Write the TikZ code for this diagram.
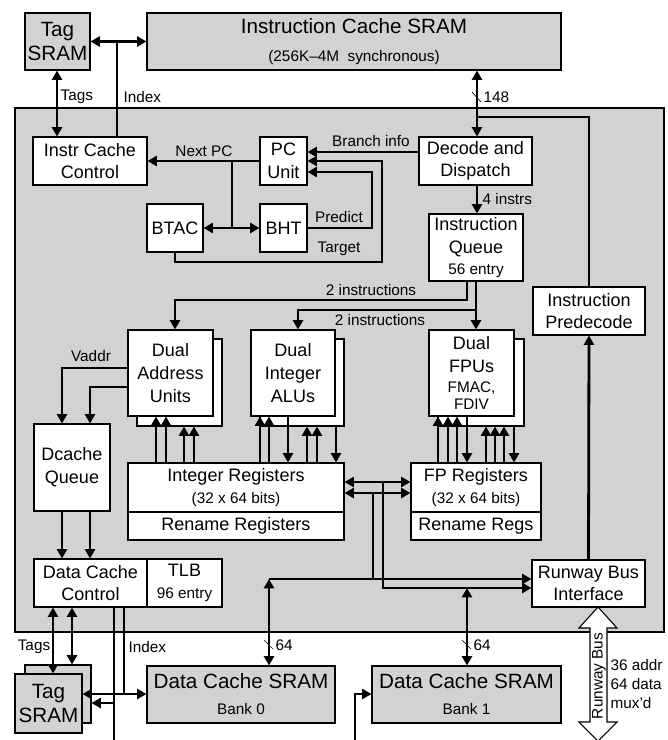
\documentclass[tikz,border=0pt]{standalone}
\usepackage{fontspec}
\setmainfont{Liberation Sans}
\usetikzlibrary{arrows.meta}
\definecolor{chipgray}{RGB}{210,210,212}
\newcommand{\sizebig}{\fontsize{15.5}{18.5}\selectfont}
\newcommand{\sizebox}{\fontsize{13.5}{17}\selectfont}
\newcommand{\sizesmall}{\fontsize{11.5}{13.5}\selectfont}
\tikzstyle{arrow} = [line width=2.1pt,->,>={Triangle[length=7pt,width=7.5pt]}]
\tikzstyle{wire}  = [line width=2.1pt]
\tikzset{every node/.style={align=center}}
% box from corner (x1,y1) to (x2,y2), in pixels
\newcommand{\blk}[7][]{%
  \node[box,#1,minimum width={(#5-#3)*0.75pt},minimum height={(#6-#4)*0.75pt}]
    (#2) at ({(#3+#5)/2},{(#4+#6)/2}) {#7};}

\begin{document}
\begin{tikzpicture}[
    x=0.75pt, y=-0.75pt,
    box/.style={rectangle, draw, line width=0.8pt, fill=white, inner sep=0pt, font=\sizebox},
    sram/.style={fill=chipgray, font=\sizebig},
    lbl/.style={inner sep=1pt, font=\sizesmall}
]
  \useasboundingbox (0,0) rectangle (668,740);

  % --- chip and external SRAMs ---
  \blk[fill=chipgray, line width=1.8pt]{chip}{15}{108}{664}{632}{}
  \blk[sram]{tagt}{25}{13}{90}{70}{Tag\\SRAM}
  \blk[sram]{ic}{147}{13}{561}{70}{Instruction Cache SRAM\\[3pt]{\sizesmall (256K–4M\ \ synchronous)}}
  \blk[sram]{b0}{147}{666}{335}{723}{Data Cache SRAM\\[1pt]{\sizesmall Bank 0}}
  \blk[sram]{b1}{372}{666}{561}{723}{Data Cache SRAM\\[1pt]{\sizesmall Bank 1}}
  \blk[sram]{tagbk}{25}{665}{91}{723}{}
  \blk[sram]{tagb}{15}{674}{82}{733}{Tag\\SRAM}

  % --- fetch ---
  \blk{icc}{33}{137}{147}{185}{Instr Cache\\Control}
  \blk{pc}{260}{137}{307}{185}{PC\\Unit}
  \blk{dd}{419}{137}{532}{185}{Decode and\\Dispatch}
  \blk{btac}{147}{204}{203}{252}{BTAC}
  \blk{bht}{260}{204}{307}{252}{BHT}
  \blk{iq}{429}{214}{523}{281}{Instruction\\Queue\\[-1pt]{\sizesmall 56 entry}}
  \blk{pd}{533}{287}{645}{335}{Instruction\\Predecode}

  % --- execution units ---
  \blk{daush}{137}{339}{222}{426}{}
  \blk{dau}{128}{330}{213}{416}{Dual\\Address\\Units}
  \blk{alush}{260}{339}{344}{426}{}
  \blk{alu}{251}{330}{335}{416}{Dual\\Integer\\ALUs}
  \blk{fpush}{438}{339}{524}{426}{}
  \blk{fpu}{429}{330}{514}{416}{Dual\\FPUs\\[-2pt]{\sizesmall FMAC,}\\[-4pt]{\sizesmall FDIV}}

  % --- registers, queues ---
  \blk{dq}{34}{424}{110}{511}{Dcache\\Queue}
  \blk{ir}{128}{463}{344}{512}{Integer Registers\\[-1pt]{\sizesmall (32 x 64 bits)}}
  \blk{irr}{128}{512}{344}{540}{Rename Registers}
  \blk{fr}{411}{463}{541}{512}{FP Registers\\[-1pt]{\sizesmall (32 x 64 bits)}}
  \blk{frr}{411}{512}{541}{540}{Rename Regs}
  \blk{dcc}{34}{559}{147}{607}{Data Cache\\Control}
  \blk{tlb}{147}{559}{222}{607}{TLB\\[-1pt]{\sizesmall 96 entry}}
  \blk{rbi}{532}{560}{645}{607}{Runway Bus\\Interface}

  % --- fetch connections ---
  \draw[arrow, <->] (tagt.east) -- (ic.west);
  \draw[wire] (117,0 |- icc.north) -- (117,42);
  \draw[arrow, <->] (57,0 |- tagt.south) -- (57,0 |- icc.north);
  \node[lbl, anchor=west] (tagslbl) at (59,97) {Tags};
  \node[lbl, anchor=west] (indexlbl) at (122,97) {Index};
  \draw[arrow] (pc.west) -- (icc.east);
  \node[lbl] (nextpc) at (204,151) {Next PC};
  \draw[wire] (232,0 |- pc.west) -- (232,0 |- bht.west);
  \draw[arrow, <->] (btac.east) -- (bht.west);
  \draw[arrow] (bht.east) -- (372,0 |- bht.east) |- (pc.east |- 0,172);
  \draw[arrow] (175,0 |- btac.south) -- (175,262) -| (382,161) -- (pc.east);
  \draw[arrow] (dd.west |- 0,152) -- (pc.east |- 0,152);
  \node[lbl] (predict) at (339,217) {Predict};
  \node[lbl] (target) at (339,249) {Target};
  \node[lbl] (brinfo) at (371,141) {Branch info};

  % --- decode and issue ---
  \draw[arrow, <->] (477,0 |- ic.south) -- (477,0 |- dd.north);
  \draw[line width=0.5pt] (472,92) -- (481,102);
  \node[lbl, anchor=west] (w148) at (482,97) {148};
  \draw[wire] (pd.north) |- (477,117);
  \draw[arrow] (477,0 |- dd.south) -- (477,0 |- iq.north);
  \node[lbl, anchor=west] (instrs4) at (481,199) {4 instrs};
  \draw[arrow] (467,0 |- iq.south) |- (175,300) -- (175,0 |- dau.north);
  \draw[arrow] (476,0 |- iq.south) -- (476,0 |- fpu.north);
  \draw[arrow] (476,310) -| (298,0 |- alu.north);
  \node[lbl] (twoa) at (371,290) {2 instructions};
  \node[lbl] (twob) at (380,320) {2 instructions};
  \draw[arrow] (rbi.north) -- (pd.south);

  % --- operands ---
  \foreach \x in {156,166} \draw[arrow] (\x,0 |- ir.north) -- (\x,0 |- dau.south);
  \foreach \x in {184,194} \draw[arrow] (\x,0 |- ir.north) -- (\x,0 |- daush.south);
  \foreach \x in {260,269} \draw[arrow] (\x,0 |- ir.north) -- (\x,0 |- alu.south);
  \foreach \x in {307,317} \draw[arrow] (\x,0 |- ir.north) -- (\x,0 |- alush.south);
  \draw[arrow] (288,0 |- alu.south) -- (288,0 |- ir.north);
  \draw[arrow] (336,0 |- alush.south) -- (336,0 |- ir.north);
  \foreach \x in {438,448,457} \draw[arrow] (\x,0 |- fr.north) -- (\x,0 |- fpu.south);
  \foreach \x in {486,495,504} \draw[arrow] (\x,0 |- fr.north) -- (\x,0 |- fpush.south);
  \draw[arrow] (467,0 |- fpu.south) -- (467,0 |- fr.north);
  \draw[arrow] (514,0 |- fpush.south) -- (514,0 |- fr.north);
  \draw[arrow, <->] (ir.east |- 0,482) -- (fr.west |- 0,482);
  \draw[arrow, <->] (ir.east |- 0,493) -- (fr.west |- 0,493);

  % --- load/store path ---
  \draw[arrow] (dau.west |- 0,368) -| (62,0 |- dq.north);
  \draw[arrow] (dau.west |- 0,387) -| (90,0 |- dq.north);
  \node[lbl] (vaddr) at (91,356) {Vaddr};
  \draw[arrow] (62,0 |- dq.south) -- (62,0 |- dcc.north);
  \draw[arrow] (90,0 |- dq.south) -- (90,0 |- dcc.north);
  \draw[wire] (373,493) -- (373,579);
  \draw[arrow] (269,579) -- (rbi.west |- 0,579);
  \draw[arrow] (383,482) |- (rbi.west |- 0,588);
  \draw[arrow, <->] (269,579) -- (269,0 |- b0.north);
  \draw[arrow, <->] (467,588) -- (467,0 |- b1.north);
  \draw[line width=0.5pt] (264,640) -- (273,649);
  \draw[line width=0.5pt] (462,640) -- (471,649);
  \node[lbl, anchor=west] (w64a) at (274,645) {64};
  \node[lbl, anchor=west] (w64b) at (472,645) {64};

  % --- data cache tags and index ---
  \draw[arrow, <->] (53,0 |- dcc.south) -- (53,0 |- tagb.north);
  \draw[arrow, <->] (72,0 |- dcc.south) -- (72,0 |- tagbk.north);
  \draw[wire] (124,0 |- dcc.south) -- (124,694);
  \draw[wire] (114,0 |- dcc.south) -- (114,740);
  \draw[arrow, <->] (tagb.east |- 0,694) -- (b0.west |- 0,694);
  \draw[arrow] (114,703) -- (tagbk.east |- 0,703);
  \draw[arrow] (355,740) |- (b1.west |- 0,694);
  \node[lbl] (tagslbl2) at (34,647) {Tags};
  \node[lbl, anchor=west] (indexlbl2) at (127,647) {Index};

  % --- runway bus ---
  \draw[line width=0.8pt, fill=white] (598,607) -- (617,628) -- (607,628) -- (607,722)
    -- (617,722) -- (598,741) -- (579,722) -- (590,722) -- (590,628) -- (579,628) -- cycle;
  \node[lbl, rotate=90] (rbus) at (599,676) {Runway Bus};
  \node[lbl, anchor=west, align=left] (rbwidth) at (609,684) {36 addr\\[1pt]64 data\\[1pt]mux'd};
\end{tikzpicture}
\end{document}
